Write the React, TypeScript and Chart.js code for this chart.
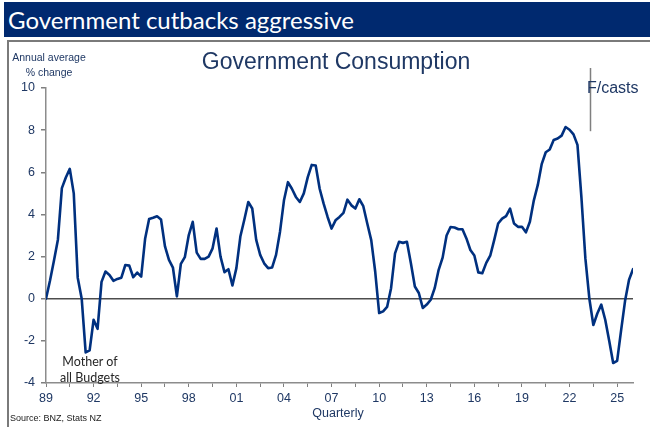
import React, { useEffect, useRef } from 'react';
import { Chart, registerables } from 'chart.js';

Chart.register(...registerables);

// Quarterly observations, starting with the first quarter shown under "89"
const firstYear = 1989;
const govConsumption: number[] = [
  0, 0.85, 1.8, 2.8, 5.25, 5.75, 6.16, 5.0, 1.0, 0.0,
  -2.55, -2.45, -1.0, -1.43, 0.8, 1.29, 1.13, 0.85, 0.94, 1.0,
  1.6, 1.57, 1.02, 1.24, 1.05, 2.86, 3.78, 3.84, 3.91, 3.76,
  2.48, 1.84, 1.48, 0.11, 1.65, 1.97, 3.02, 3.65, 2.19, 1.89,
  1.89, 2.0, 2.39, 3.33, 2.0, 1.26, 1.4, 0.63, 1.45, 2.95,
  3.75, 4.59, 4.28, 2.79, 2.08, 1.68, 1.45, 1.48, 2.08, 3.18,
  4.67, 5.53, 5.22, 4.83, 4.59, 5.0, 5.77, 6.35, 6.32, 5.22,
  4.51, 3.88, 3.33, 3.72, 3.88, 4.07, 4.7, 4.43, 4.28, 4.72,
  4.39, 3.57, 2.78, 1.29, -0.68, -0.6, -0.39, 0.5, 2.15, 2.7,
  2.65, 2.7, 1.68, 0.58, 0.27, -0.44, -0.28, -0.05, 0.5, 1.37,
  1.95, 3.0, 3.4, 3.38, 3.3, 3.3, 2.86, 2.31, 2.05, 1.25,
  1.21, 1.7, 2.04, 2.78, 3.57, 3.8, 3.92, 4.28, 3.57, 3.41,
  3.41, 3.15, 3.65, 4.67, 5.4, 6.4, 6.95, 7.08, 7.53, 7.6,
  7.74, 8.15, 8.02, 7.8, 7.3, 4.8, 1.9, 0.0, -1.25, -0.7,
  -0.28, -1.0, -2.0, -3.05, -2.95, -1.5, -0.1, 0.9, 1.4,
];
const xTickLabels: string[] = ['89', '92', '95', '98', '01', '04', '07', '10', '13', '16', '19', '22', '25'];
const yTickValues: number[] = [-4, -2, 0, 2, 4, 6, 8, 10];
const forecastStart = 137.1; // quarter index where forecasts begin
const forecastMarkerRange: number[] = [7.95, 10.95];

const quarterLabels: string[] = govConsumption.map((_, i) => {
  const y = firstYear + Math.floor(i / 4);
  return `${y}Q${(i % 4) + 1}`;
});

const NAVY_TEXT = '#1F3864';
const LINE_COLOR = '#00307F';
const ARIAL = '"Liberation Sans", Arial, sans-serif';
const CALIBRI = 'Lato, "Open Sans", sans-serif';

const forecastPlugin = {
  id: 'forecastMarker',
  afterDraw(chart: any) {
    const { ctx, scales } = chart;
    const x = scales.x.getPixelForValue(forecastStart);
    const y1 = scales.y.getPixelForValue(forecastMarkerRange[1]);
    const y2 = scales.y.getPixelForValue(forecastMarkerRange[0]);
    ctx.save();
    ctx.strokeStyle = '#7f7f7f';
    ctx.lineWidth = 1.5;
    ctx.beginPath();
    ctx.moveTo(Math.round(x) + 0.5, y1);
    ctx.lineTo(Math.round(x) + 0.5, y2);
    ctx.stroke();
    ctx.restore();
  },
};

export default function App() {
  const canvasRef = useRef<HTMLCanvasElement | null>(null);

  useEffect(() => {
    document.body.style.margin = '0';
    const canvas = canvasRef.current;
    if (!canvas) return;
    const chart = new Chart(canvas, {
      type: 'line',
      data: {
        labels: quarterLabels,
        datasets: [
          {
            label: 'Government Consumption',
            data: govConsumption.map((v, i) => ({ x: i, y: v })),
            borderColor: LINE_COLOR,
            borderWidth: 2.6,
            pointRadius: 0,
            tension: 0,
            borderJoinStyle: 'round',
            borderCapStyle: 'round',
            fill: false,
          },
        ],
      },
      options: {
        responsive: false,
        animation: false,
        events: [],
        layout: { padding: { left: 0, right: 17, top: 88, bottom: 0 } },
        plugins: {
          legend: { display: false },
          tooltip: { enabled: false },
          title: { display: false },
        },
        scales: {
          x: {
            type: 'linear',
            min: 0,
            max: govConsumption.length - 1,
            afterFit: (s: any) => {
              s.height = 44;
            },
            ticks: {
              stepSize: 6,
              includeBounds: false,
              autoSkip: false,
              maxRotation: 0,
              padding: 4,
              color: NAVY_TEXT,
              font: { family: ARIAL, size: 12.5 },
              callback: (value: any) => {
                const v = Number(value);
                return v % 12 === 0 ? xTickLabels[v / 12] ?? '' : '';
              },
            },
            grid: {
              drawOnChartArea: false,
              drawTicks: true,
              tickLength: 4,
              tickColor: '#7f7f7f',
              tickWidth: 1,
            },
            border: { display: true, color: '#8c8c8c', width: 1.5 },
          },
          y: {
            type: 'linear',
            min: yTickValues[0],
            max: yTickValues[yTickValues.length - 1],
            afterFit: (s: any) => {
              s.width = 46;
            },
            afterBuildTicks: (s: any) => {
              s.ticks = yTickValues.map((v) => ({ value: v }));
            },
            ticks: {
              padding: 6,
              color: NAVY_TEXT,
              font: { family: ARIAL, size: 12.5 },
            },
            grid: {
              drawOnChartArea: true,
              drawTicks: true,
              tickLength: 5,
              tickColor: '#7f7f7f',
              lineWidth: 1.5,
              color: (c: any) => (c.tick && c.tick.value === 0 ? '#4d4d4d' : 'rgba(0,0,0,0)'),
            },
            border: { display: true, color: '#8c8c8c', width: 1.5 },
          },
        },
      },
      plugins: [forecastPlugin],
    } as any);
    return () => chart.destroy();
  }, []);

  const abs = (style: React.CSSProperties): React.CSSProperties => ({
    position: 'absolute',
    whiteSpace: 'nowrap',
    margin: 0,
    ...style,
  });

  return (
    <div
      style={{
        position: 'fixed',
        left: 0,
        top: 0,
        width: 650,
        height: 427,
        overflow: 'hidden',
        background: '#ffffff',
      }}
    >
      <div
        style={abs({
          left: 4,
          top: 2,
          width: 646,
          height: 35,
          background: '#00296F',
          color: '#ffffff',
          fontFamily: CALIBRI,
          fontSize: 24,
          lineHeight: '35px',
          paddingLeft: 4,
          boxSizing: 'border-box',
        })}
      >
        Government cutbacks aggressive
      </div>
      <div
        style={abs({
          left: 7,
          top: 40,
          width: 700,
          height: 500,
          borderTop: '2px solid #7a7a7a',
          borderLeft: '2px solid #7a7a7a',
          boxSizing: 'border-box',
        })}
      />
      <canvas ref={canvasRef} width={650} height={427} style={abs({ left: 0, top: 0, width: 650, height: 427 })} />
      <div style={abs({ left: 1, width: 96, top: 50, textAlign: 'center', fontFamily: ARIAL, fontSize: 10.5, lineHeight: '15px', color: NAVY_TEXT })}>
        Annual average
        <br />
        % change
      </div>
      <div style={abs({ left: 136, width: 400, top: 47, textAlign: 'center', fontFamily: ARIAL, fontSize: 23, lineHeight: '28px', color: NAVY_TEXT })}>
        Government Consumption
      </div>
      <div style={abs({ left: 587, top: 79, fontFamily: ARIAL, fontSize: 16, lineHeight: '18px', color: NAVY_TEXT })}>F/casts</div>
      <div style={abs({ left: 40, width: 100, top: 354, textAlign: 'center', fontFamily: CALIBRI, fontSize: 12.5, lineHeight: '16px', color: '#262626' })}>
        Mother of
        <br />
        all Budgets
      </div>
      <div style={abs({ left: 288, width: 100, top: 405, textAlign: 'center', fontFamily: ARIAL, fontSize: 12.5, lineHeight: '16px', color: NAVY_TEXT })}>
        Quarterly
      </div>
      <div style={abs({ left: 10, top: 412, fontFamily: ARIAL, fontSize: 9, lineHeight: '12px', color: '#1a1a1a' })}>
        Source: BNZ, Stats NZ
      </div>
    </div>
  );
}
